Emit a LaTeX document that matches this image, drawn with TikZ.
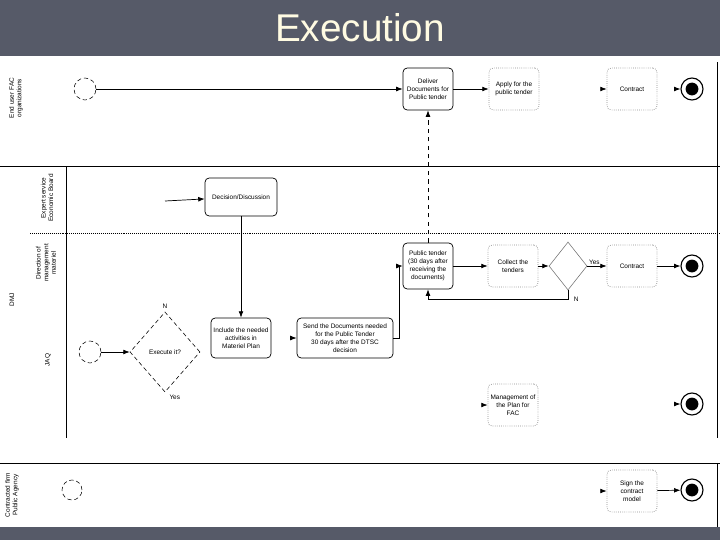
\documentclass[tikz,border=0pt]{standalone}
\usepackage{fontspec}
\setsansfont{Liberation Sans}
\usepackage{xcolor}
\usepackage{tikz}
\usetikzlibrary{arrows.meta,positioning,shapes.geometric}
\definecolor{cinzabarra}{RGB}{86,90,104}
\definecolor{creme}{RGB}{255,251,226}
\tikzset{
  acao/.style={rectangle,rounded corners=3pt,draw=black,line width=0.5pt,fill=white,
    minimum width=12.5mm,minimum height=10.5mm,align=center,inner sep=1pt,
    font=\fontsize{4.6}{5.6}\selectfont\sffamily},
  acaofraca/.style={acao,draw=black!45,densely dotted},
  inicio/.style={circle,draw=black,densely dashed,minimum size=5.5mm,inner sep=0pt},
  fim/.style={circle,draw=black,thick,minimum size=5.5mm,inner sep=0pt,
    path picture={\fill (path picture bounding box.center) circle (1.6mm);}},
  decisao/.style={diamond,draw=black,densely dashed,align=center,inner sep=0pt,
    minimum width=17.5mm,minimum height=20mm,font=\fontsize{4.6}{5.6}\selectfont\sffamily},
  decisaopequena/.style={diamond,draw=black!55,minimum width=9.5mm,minimum height=12mm,
    inner sep=0pt},
  raia/.style={rotate=90,align=center,font=\fontsize{4.6}{5.4}\selectfont\sffamily},
  rotulo/.style={font=\fontsize{4.6}{5.6}\selectfont\sffamily,inner sep=1pt},
  seta/.style={-{Latex[length=1.6mm,width=1.2mm]},line width=0.5pt}
}

\begin{document}
\begin{tikzpicture}[x=0.025cm,y=-0.025cm]
\useasboundingbox (0,0) rectangle (720,540);
\fill[cinzabarra] (0,0) rectangle (720,56);
\fill[cinzabarra] (0,527) rectangle (720,540);
\node[text=creme,font=\fontsize{27.5}{30}\selectfont\sffamily] (titulo) at (360,28) {Execution};

% raias
\draw[line width=0.6pt] (0,166) -- (720,166);
\draw[line width=0.6pt] (66,166) -- (66,438);
\draw[densely dotted] (30,233) -- (720,233);
\draw (717,62) -- (717,438);
\draw (0,463) -- (720,463);
\draw (717,463) -- (717,527);
\node[raia] (raiaA) at (16,98) {End user FAC\\organizations};
\node[raia] (raiaB) at (47,198) {Expert service\\Economic Board};
\node[raia] (raiaC) at (46,263) {Direction of\\management\\materiel};
\node[raia] (grupo) at (12,300) {DMJ};
\node[raia] (raiaD) at (48,360) {JAQ};
\node[raia] (raiaE) at (12,495) {Contracted firm\\Public Agency};

% organizacoes
\node[inicio] (inicioA) at (85,89) {};
\node[acao] (entregar) at (428,89) {Deliver\\Documents for\\Public tender};
\node[acaofraca] (aplicar) at (514,89) {Apply for the\\public tender};
\node[acaofraca] (contratoA) at (632,89) {Contract};
\node[fim] (fimA) at (692,89) {};
\coordinate (preContratoA) at (601,89);
\coordinate (preFimA) at (674,89);

% junta
\node[acao,minimum width=18mm,minimum height=9.5mm] (decidir) at (241,197) {Decision/Discussion};
\coordinate (preDecidir) at (165,201);

% direcao
\node[acao,minimum height=11.5mm] (licitar) at (428,266) {Public tender\\(30 days after\\receiving the\\documents)};
\node[acaofraca] (coletar) at (513,266) {Collect the\\tenders};
\node[decisaopequena] (escolha) at (568,266) {};
\node[acaofraca] (contratoC) at (632,266) {Contract};
\node[fim] (fimC) at (692,266) {};

% jaq
\node[inicio] (inicioD) at (90,352) {};
\node[decisao] (executar) at (165,352) {Execute it?};
\node[acao,minimum width=15mm,minimum height=10mm] (incluir) at (241,338) {Include the needed\\activities in\\Materiel Plan};
\node[acao,minimum width=24mm,minimum height=10mm] (enviar) at (345,338) {Send the Documents needed\\for the Public Tender\\30 days after the DTSC\\decision};
\node[acaofraca] (gerir) at (513,405) {Management of\\the Plan for\\FAC};
\node[fim] (fimD) at (692,404) {};
\coordinate (preEnviar) at (291,338);
\coordinate (preGerir) at (483,405);
\coordinate (preFimD) at (674,404);

% empresa
\node[inicio,minimum size=5mm] (inicioE) at (72,490) {};
\node[acaofraca] (assinar) at (632,491) {Sign the\\contract\\model};
\node[fim] (fimE) at (692,490) {};
\coordinate (preAssinar) at (602,491);

% conectores
\draw[seta] (inicioA) -- (entregar);
\draw[seta] (entregar) -- (aplicar);
\draw[seta] (preContratoA) -- (contratoA);
\draw[seta] (preFimA) -- (fimA);
\draw[seta,dashed] (licitar.north) -- (entregar.south);
\draw[seta] (preDecidir) -- (decidir);
\draw[seta] (decidir.south) -- (incluir.north);
\draw[seta] (inicioD) -- (executar);
\node[rotulo,above=1pt of executar.north] (nao) {N};
\node[rotulo,below right=1pt and 2pt of executar.south] (sim) {Yes};
\draw[seta] (preEnviar) -- (enviar);
\draw[seta] (enviar.east) -- ++(6,0) |- (licitar.west);
\draw[seta] (licitar) -- (coletar);
\draw[seta] (coletar) -- (escolha);
\draw[seta] (escolha) -- node[rotulo,above right,pos=0] {Yes} (contratoC);
\draw[seta] (contratoC) -- (fimC);
\draw[seta] (escolha.south) -- ++(0,9) node[rotulo,right=3pt] {N} -| (licitar.south);
\draw[seta] (preGerir) -- (gerir);
\draw[seta] (preFimD) -- (fimD);
\draw[seta] (preAssinar) -- (assinar);
\draw[seta] (assinar) -- (fimE);
\end{tikzpicture}
\end{document}
